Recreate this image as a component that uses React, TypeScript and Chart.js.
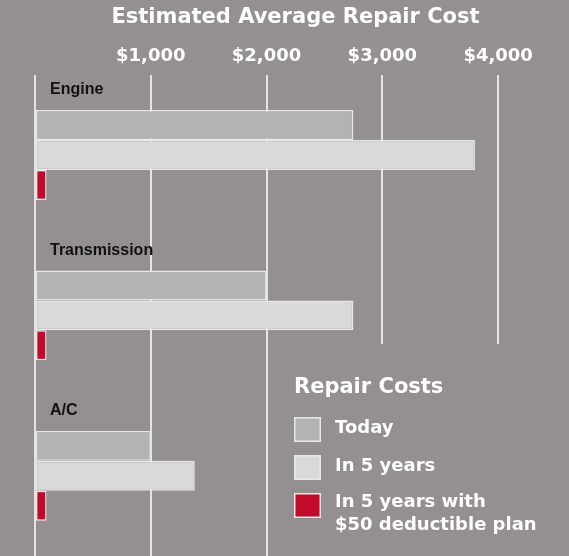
import React, { useEffect, useRef } from 'react';
import { Chart, registerables } from 'chart.js';

Chart.register(...registerables);

const chartTitle = 'Estimated Average Repair Cost';
const legendTitle = 'Repair Costs';
const categories = ['Engine', 'Transmission', 'A/C'];
const seriesLabels = ['Today', 'In 5 years', 'In 5 years with\n$50 deductible plan'];
const todayCost = [2750, 2000, 1000];
const fiveYearCost = [3800, 2750, 1380];
const deductibleCost = [100, 100, 100];
const tickValues = [0, 1000, 2000, 3000, 4000];

const BG = '#948f90';
const GRID = '#e4e4e4';
const BORDER = '#e8e8e8';
const COLORS = ['#b3b3b3', '#d9d9d9', '#c20a2a'];

const decorPlugin = {
  id: 'decor',
  beforeDraw(chart: any) {
    const { ctx, width, height } = chart;
    ctx.save();
    ctx.fillStyle = BG;
    ctx.fillRect(0, 0, width, height);
    ctx.restore();
  },
  beforeDatasetsDraw(chart: any) {
    const { ctx, width, height } = chart;
    ctx.save();
    ctx.fillStyle = BG;
    ctx.fillRect(290, 344, width - 290, height - 344);
    ctx.restore();
  },
  afterDraw(chart: any) {
    const { ctx, chartArea } = chart;
    ctx.save();
    // category labels above each group
    ctx.fillStyle = '#111111';
    ctx.font = 'bold 16px "Liberation Sans", Arial, sans-serif';
    ctx.textBaseline = 'middle';
    ctx.textAlign = 'left';
    const labels = chart.data.labels as string[];
    labels.forEach((lab: string, i: number) => {
      const meta = chart.getDatasetMeta(0);
      const bar: any = meta.data[i];
      const top = bar.y - bar.height / 2;
      ctx.fillText(lab, chartArea.left + 15, top - 20);
    });
    // legend
    const lx = 294;
    ctx.fillStyle = '#ffffff';
    ctx.font = 'bold 21px "DejaVu Sans", sans-serif';
    ctx.fillText(legendTitle, lx, 388);
    ctx.font = 'bold 18px "DejaVu Sans", sans-serif';
    chart.data.datasets.forEach((ds: any, i: number) => {
      const top = 417 + i * 38;
      ctx.fillStyle = ds.backgroundColor;
      ctx.fillRect(lx, top, 27, 25);
      ctx.strokeStyle = BORDER;
      ctx.lineWidth = 1.5;
      ctx.strokeRect(lx + 0.75, top + 0.75, 25.5, 23.5);
      ctx.fillStyle = '#ffffff';
      const lines = String(ds.label).split('\n');
      lines.forEach((ln: string, j: number) => {
        ctx.fillText(ln, 335, top + 11 + (lines.length > 1 ? -2 : 0) + j * 23);
      });
    });
    ctx.restore();
  },
};

export default function App() {
  const ref = useRef<HTMLCanvasElement | null>(null);
  useEffect(() => {
    document.body.style.margin = '0';
    document.body.style.background = BG;
    const canvas = ref.current!;
    const chart = new Chart(canvas, {
      type: 'bar',
      data: {
        labels: categories,
        datasets: [
          { label: seriesLabels[0], data: todayCost, backgroundColor: COLORS[0] },
          { label: seriesLabels[1], data: fiveYearCost, backgroundColor: COLORS[1] },
          { label: seriesLabels[2], data: deductibleCost, backgroundColor: COLORS[2] },
        ].map((d) => ({
          ...d,
          borderColor: BORDER,
          borderWidth: 1.5,
          borderSkipped: false,
          categoryPercentage: 0.56,
          barPercentage: 1,
        })),
      },
      options: {
        indexAxis: 'y',
        responsive: false,
        animation: false,
        events: [],
        layout: { padding: { left: 35, right: 13, top: 0, bottom: 0 } },
        plugins: {
          legend: { display: false },
          tooltip: { enabled: false },
          title: {
            display: true,
            text: chartTitle,
            color: '#ffffff',
            font: { family: '"DejaVu Sans", sans-serif', size: 21, weight: 'bold' },
            padding: { top: 5, bottom: 7 },
          },
        },
        scales: {
          x: {
            type: 'linear',
            position: 'top',
            min: 0,
            max: 4500,
            afterBuildTicks: (scale: any) => {
              scale.ticks = tickValues.map((v) => ({ value: v }));
            },
            border: { display: false },
            grid: { color: GRID, lineWidth: 2, drawTicks: false },
            ticks: {
              color: '#ffffff',
              padding: 8,
              maxRotation: 0,
              autoSkip: false,
              font: { family: '"DejaVu Sans", sans-serif', size: 18, weight: 'bold' },
              callback: (v: any) => (Number(v) === 0 ? '' : '$' + Number(v).toLocaleString('en-US')),
            },
          },
          y: {
            type: 'category',
            display: false,
          },
        },
      },
      plugins: [decorPlugin],
    } as any);
    return () => chart.destroy();
  }, []);
  return (
    <div style={{ width: 569, height: 556, background: BG }}>
      <canvas ref={ref} width={569} height={556} style={{ display: 'block', width: 569, height: 556 }} />
    </div>
  );
}
